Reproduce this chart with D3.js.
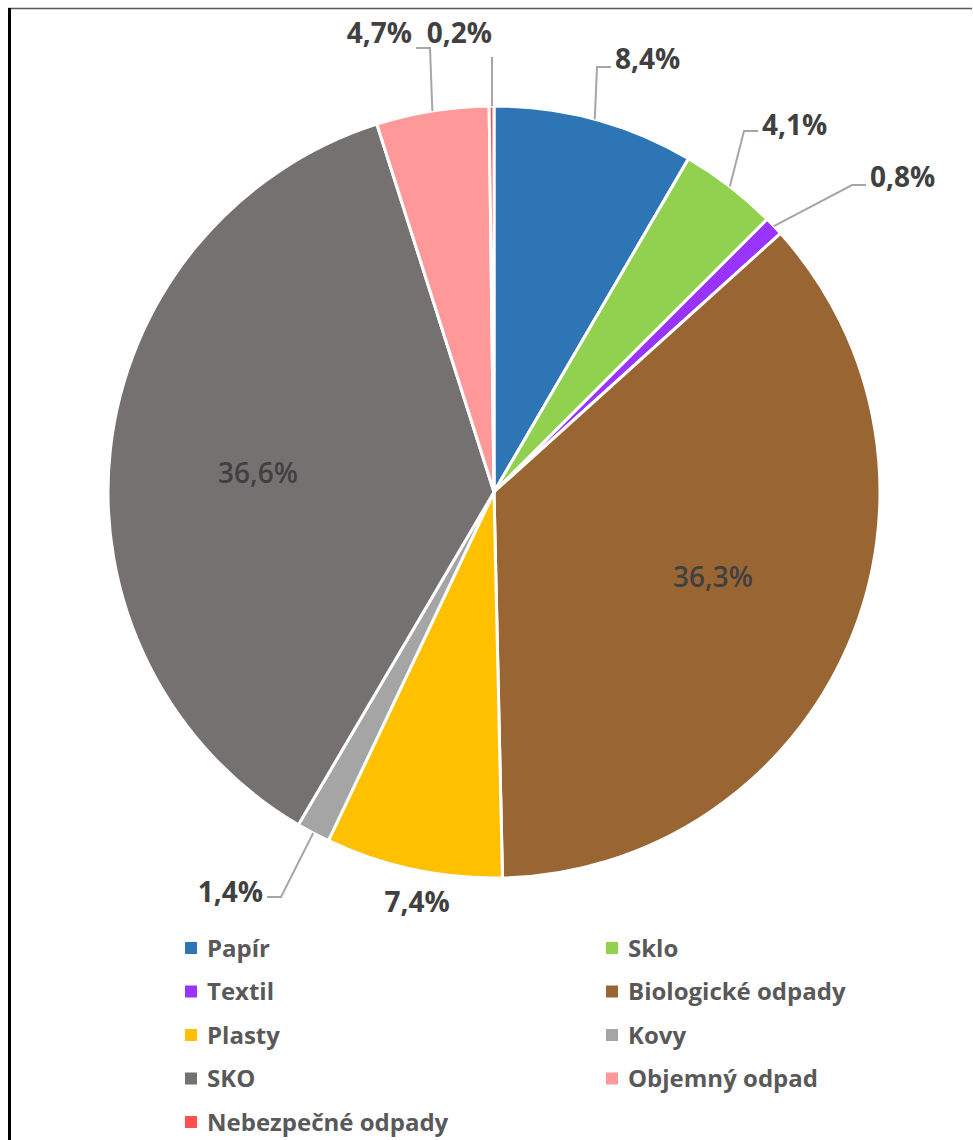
<!DOCTYPE html>
<html><head><meta charset="utf-8">
<script src="https://cdn.jsdelivr.net/npm/d3@7"></script>
<style>html,body{margin:0;padding:0;background:#fff}svg{display:block}</style>
</head><body>
<script>
const categories = ["Papír","Sklo","Textil","Biologické odpady","Plasty","Kovy","SKO","Objemný odpad","Nebezpečné odpady"];
const values = [8.4, 4.1, 0.8, 36.3, 7.4, 1.4, 36.6, 4.7, 0.2];
const labels = ["8,4%","4,1%","0,8%","36,3%","7,4%","1,4%","36,6%","4,7%","0,2%"];
const colors = ["#2E75B6","#92D050","#9933FF","#996633","#FFC000","#A5A5A5","#767171","#FF9999","#FF5050"];

// label layout (offsets from pie centre), manually placed as in the source
const labelLayout = [
  {dx:121, dy:-423, anchor:"start", leader:"elbow", ly:0},
  {dx:268, dy:-357, anchor:"start", leader:"elbow", ly:-2},
  {dx:376, dy:-305, anchor:"start", leader:"elbow", ly:0},
  {dx:219, dy:95, anchor:"middle", leader:null},
  {dx:-77, dy:420, anchor:"middle", leader:null},
  {dx:-231, dy:410, anchor:"end", leader:"elbow", ly:-3},
  {dx:-236, dy:-9, anchor:"middle", leader:null},
  {dx:-82, dy:-449, anchor:"end", leader:"elbow", ly:7},
  {dx:-2, dy:-449, anchor:"end", leader:"vertical", ly:0}
];

const W = 973, H = 1140;
const cx = 494, cy = 492, R = 386;

const svg = d3.select("body").append("svg").attr("width", W).attr("height", H);
svg.append("rect").attr("width", W).attr("height", H).attr("fill", "#fff");

// frame
svg.append("line").attr("x1", 8).attr("x2", 972).attr("y1", 8.5).attr("y2", 8.5).attr("stroke", "#595959").attr("stroke-width", 1.5);
svg.append("line").attr("x1", 9.5).attr("x2", 9.5).attr("y1", 8).attr("y2", H).attr("stroke", "#000").attr("stroke-width", 3);

const data = categories.map((c, i) => ({cat: c, value: values[i], label: labels[i], color: colors[i], lay: labelLayout[i]}));

const pie = d3.pie().value(d => d.value).sort(null);
const arcs = pie(data);
const arc = d3.arc().innerRadius(0).outerRadius(R);

const g = svg.append("g").attr("transform", `translate(${cx},${cy})`);
g.selectAll("path.slice").data(arcs).join("path")
  .attr("class", "slice")
  .attr("d", arc)
  .attr("fill", d => d.data.color)
  .attr("stroke", "#fff")
  .attr("stroke-width", 3)
  .attr("stroke-linejoin", "round");

// leader lines
arcs.forEach(a => {
  const L = a.data.lay;
  if (!L.leader) return;
  const mid = (a.startAngle + a.endAngle) / 2;
  const sx = R * Math.sin(mid), sy = -R * Math.cos(mid);
  const by = L.dy + L.ly - 2;
  let pts;
  if (L.leader === "vertical") {
    pts = [[L.dx, sy], [L.dx, L.dy + 14]];
  } else {
    const dir = L.anchor === "start" ? -1 : 1;
    const ex = L.dx + dir * 4;
    const elx = L.dx + dir * 18;
    pts = [[sx, sy], [elx, by], [ex, by]];
  }
  g.append("path").attr("d", d3.line()(pts)).attr("fill", "none")
    .attr("stroke", "#A6A6A6").attr("stroke-width", 2);
});

// labels
g.selectAll("text.lbl").data(arcs).join("text")
  .attr("class", "lbl")
  .attr("x", d => d.data.lay.dx)
  .attr("y", d => d.data.lay.dy)
  .attr("text-anchor", d => d.data.lay.anchor)
  .attr("font-family", "'Open Sans', sans-serif")
  .attr("font-weight", d => d.data.lay.leader === null && d.data.value > 20 ? 600 : 700)
  .attr("font-size", 28)
  .attr("fill", "#404040")
  .text(d => d.data.label);

// legend
const leg = svg.append("g");
const colX = [185, 606], rowY0 = 948, rowH = 43.5;
data.forEach((d, i) => {
  const col = i % 2, row = Math.floor(i / 2);
  const y = rowY0 + row * rowH;
  leg.append("rect").attr("x", colX[col]).attr("y", y - 6).attr("width", 12).attr("height", 12).attr("fill", d.color);
  leg.append("text").attr("x", colX[col] + 22).attr("y", y + 8.5)
    .attr("font-family", "'Open Sans', sans-serif").attr("font-weight", 700)
    .attr("font-size", 24).attr("fill", "#595959").text(d.cat);
});
</script>
</body></html>
